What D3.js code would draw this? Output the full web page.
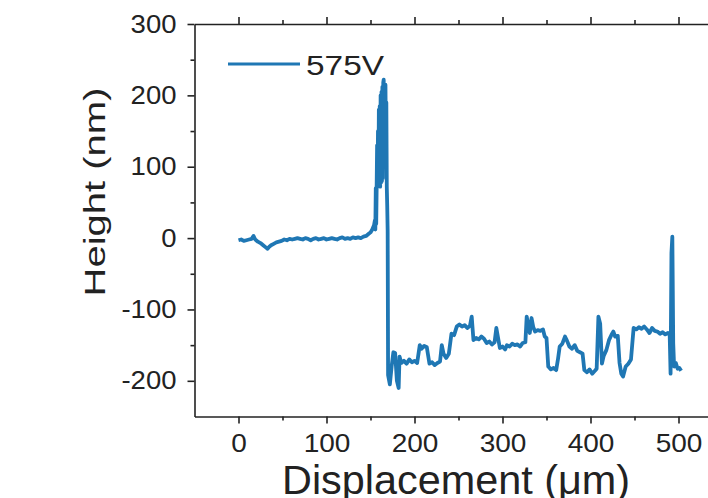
<!DOCTYPE html>
<html>
<head>
<meta charset="utf-8">
<script src="https://cdn.jsdelivr.net/npm/d3@7"></script>
<style>
  body { margin: 0; background: #fff; overflow: hidden; }
  svg { display: block; }
  text { font-family: "Liberation Sans", Arial, sans-serif; fill: #222; }
</style>
</head>
<body>
<div id="chart"></div>
<script>
// series: displacement (um) and height (nm)
var xs = [0, 3, 6, 9, 12, 15, 17, 19, 22, 25, 28, 31, 33, 35, 37, 40, 43, 46, 49, 52,
  55, 58, 61, 64, 67, 70, 73, 76, 79, 82, 85, 88, 91, 94, 97, 100, 103, 106, 109, 112,
  115, 118, 121, 124, 127, 130, 133, 136, 139, 142, 145, 148, 150, 152, 154,
  155, 155.5, 156, 156.5, 157, 157.5, 158, 158.5, 159, 159.5, 160, 160.5, 161, 161.5,
  162, 162.5, 163, 163.5, 164, 164.5, 165, 165.5, 166, 166.5, 167, 167.5, 168, 168.5,
  169, 169.5,
  170, 172, 174, 176, 178, 180, 182, 183, 185, 188, 191, 194, 197, 200, 203, 206, 208,
  211, 214, 217, 220, 223, 226, 229, 231, 233, 236, 239, 242, 245, 248, 251, 254, 257,
  260, 263, 265, 267, 270, 273, 276, 279, 282, 285, 288, 291, 293, 295, 297, 300, 303,
  305, 308, 311, 314, 317, 320, 323, 326, 327.5, 329, 331, 333, 335, 337, 340, 343, 346,
  348, 350, 352, 355, 358, 361, 363, 365, 368, 371, 373, 376, 379, 382, 385, 388, 391,
  393, 396, 399, 402, 405, 407, 409, 411, 413, 415, 418, 421, 424, 426, 428, 431, 433,
  435, 437, 440, 443, 446, 449, 452, 455, 458, 461, 464, 467, 470, 473, 476, 479, 482,
  485, 488, 490, 491, 492, 493, 494, 495, 497, 499, 501, 503];
var heights = [-3, -2, -4, -3, -2, -1, 3, -2, -5, -7, -10, -13, -15, -12, -10, -8, -6, -5, -4, -2,
  -3, -1, -2, -1, 0, -1, -2, 0, -1, -3, -1, 0, -2, -1, 0, -2, -1, 0, -1, -2,
  0, 1, -1, 0, -1, 1, 0, 1, 0, 2, 3, 6, 8, 12, 18,
  25, 12, 70, 20, 72, 130, 74, 150, 75, 180, 74, 185, 72, 200,
  78, 205, 80, 212, 84, 218, 222, 150, 205, 140, 215, 130, 190, 72,
  45, 10,
  -192, -205, -180, -160, -161, -200, -210, -166, -175, -172, -176, -170, -174, -172, -175, -150, -155,
  -151, -153, -176, -174, -178, -175, -173, -150, -162, -168, -162, -134, -136, -124, -121, -124, -122,
  -126, -123, -110, -143, -140, -142, -138, -141, -147, -145, -149, -146, -126, -140, -154, -152, -156,
  -150, -152, -148, -150, -149, -152, -147, -146, -110, -120, -133, -112, -125, -131, -129, -130, -128,
  -138, -140, -180, -184, -182, -185, -170, -152, -148, -138, -143, -152, -155, -150, -158, -160, -162,
  -185, -188, -184, -190, -186, -183, -110, -120, -176, -165, -157, -143, -135, -131, -138, -137, -175,
  -190, -194, -180, -176, -170, -126, -128, -125, -127, -124, -128, -133, -126, -130, -131, -134, -132,
  -135, -133, -136, -190, -21, 2, -147, -180, -175, -183, -182, -186];

var seriesName = "575V";
var xMajor = [0, 100, 200, 300, 400, 500];
var xMinor = [50, 150, 250, 350, 450];
var yMajor = [-200, -100, 0, 100, 200, 300];
var yMinor = [-150, -50, 50, 150, 250];

var width = 708, height = 498;
var lineColor = "#1f77b4";

var svg = d3.select("#chart").append("svg")
  .attr("width", width)
  .attr("height", height);

var x = d3.scaleLinear().domain([-50, 550]).range([194.5, 722.5]);
var y = d3.scaleLinear().domain([-250, 300]).range([416.5, 24]);

var data = xs.map(function(d, i) { return { x: d, y: heights[i] }; });

function styleAxis(g) {
  g.selectAll("path, line").attr("stroke", "#222").attr("stroke-width", 1.6);
  g.selectAll("text").attr("font-size", 25).attr("fill", "#222");
}

// stretch tick labels a little, the reference glyphs are wide
function widen(g, k) {
  g.selectAll("text").each(function() {
    var w = this.getComputedTextLength();
    d3.select(this).attr("textLength", w * k).attr("lengthAdjust", "spacingAndGlyphs");
  });
}

var fmt = function(d) { return String(d); };

// minor ticks, no domain line
function minor(axis, tx, ty) {
  var g = svg.append("g").attr("transform", "translate(" + tx + "," + ty + ")")
    .call(axis.tickSize(4).tickSizeOuter(0).tickFormat(""));
  g.select(".domain").remove();
  styleAxis(g);
}

// bottom
var gx = svg.append("g").attr("transform", "translate(0," + y(-250) + ")")
  .call(d3.axisBottom(x).tickValues(xMajor).tickSize(7).tickSizeOuter(0).tickPadding(11).tickFormat(fmt));
styleAxis(gx);
widen(gx, 1.12);
minor(d3.axisBottom(x).tickValues(xMinor), 0, y(-250));

// top
var gt = svg.append("g").attr("transform", "translate(0," + y(300) + ")")
  .call(d3.axisTop(x).tickValues(xMajor).tickSize(7).tickSizeOuter(0).tickFormat(""));
styleAxis(gt);
minor(d3.axisTop(x).tickValues(xMinor), 0, y(300));

// left
var gy = svg.append("g").attr("transform", "translate(" + x(-50) + ",0)")
  .call(d3.axisLeft(y).tickValues(yMajor).tickSize(7).tickSizeOuter(0).tickPadding(11).tickFormat(fmt));
styleAxis(gy);
widen(gy, 1.1);
minor(d3.axisLeft(y).tickValues(yMinor), x(-50), 0);

// the trace
var line = d3.line().x(function(d) { return x(d.x); }).y(function(d) { return y(d.y); });
svg.append("path").datum(data)
  .attr("d", line)
  .attr("fill", "none")
  .attr("stroke", lineColor)
  .attr("stroke-width", 3.8)
  .attr("stroke-linejoin", "round");

// legend
svg.append("line")
  .attr("x1", 228).attr("x2", 300).attr("y1", 64).attr("y2", 64)
  .attr("stroke", lineColor).attr("stroke-width", 3.2);
svg.append("text")
  .attr("x", 306).attr("y", 75)
  .attr("font-size", 28)
  .attr("textLength", 78).attr("lengthAdjust", "spacingAndGlyphs")
  .text(seriesName);

// axis titles
svg.append("text")
  .attr("x", 456).attr("y", 494)
  .attr("text-anchor", "middle")
  .attr("font-size", 40)
  .attr("textLength", 348).attr("lengthAdjust", "spacingAndGlyphs")
  .text("Displacement (\u03bcm)");

svg.append("text")
  .attr("transform", "translate(105,192) scale(0.72,1) rotate(-90)")
  .attr("text-anchor", "middle")
  .attr("font-size", 40)
  .text("Height (nm)");

// the reference frame is open on the right inside the window
svg.append("rect")
  .attr("x", 696).attr("y", 26)
  .attr("width", 12).attr("height", 389)
  .attr("fill", "#fff");
</script>
</body>
</html>
